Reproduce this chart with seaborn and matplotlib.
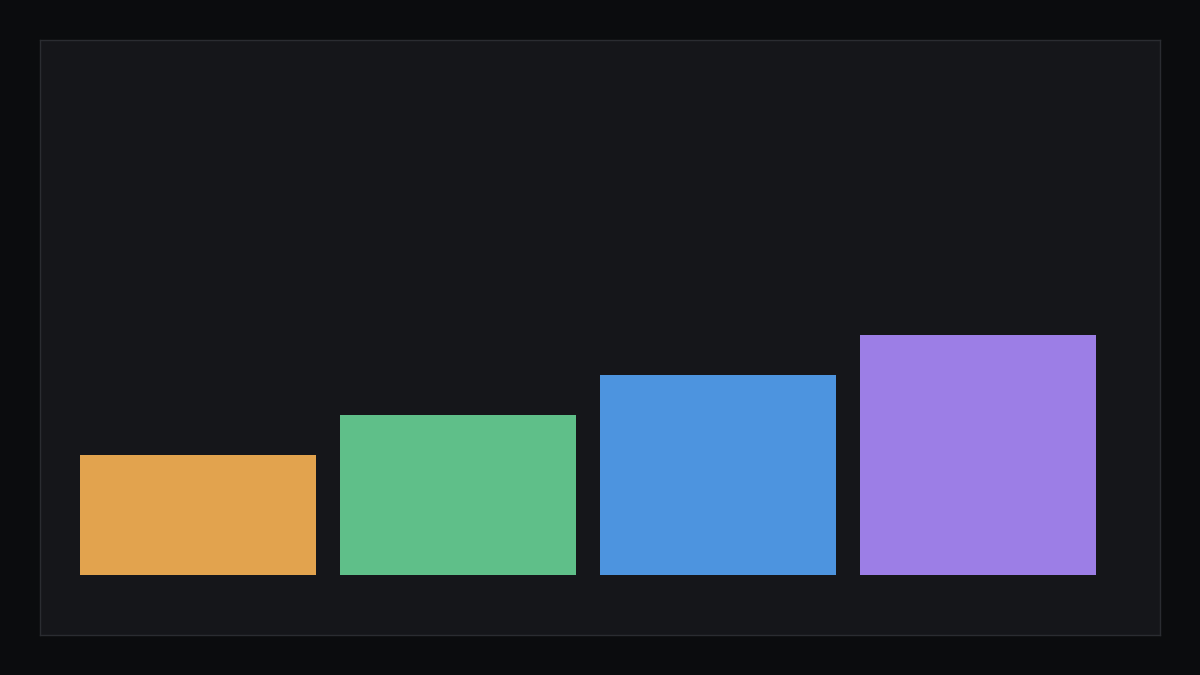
import matplotlib
matplotlib.use("Agg")
import matplotlib.pyplot as plt
import seaborn as sns
import pandas as pd

# Data
categories = ["A", "B", "C", "D"]
values = [30, 40, 50, 60]
colors = ["#e2a34e", "#5fbf89", "#4d94df", "#9c7ee6"]

df = pd.DataFrame({"category": categories, "value": values})

sns.set_theme(style="dark")

fig = plt.figure(figsize=(12, 6.75), dpi=100)
fig.patch.set_facecolor("#0b0c0e")

# Axes covers the panel: x 40..1160, y 40..635 (pixels)
ax = fig.add_axes([40 / 1200, 40 / 675, 1120 / 1200, 595 / 675])
ax.set_facecolor("#15161a")

sns.barplot(data=df, x="category", y="value", hue="category", palette=colors,
            width=236 / 260, legend=False, saturation=1, linewidth=0,
            edgecolor="none", ax=ax)

# 260 px per category slot, first bar centered at 198 px
ax.set_xlim(-158 / 260, -158 / 260 + 1120 / 260)
# 4 px per unit, zero at 575 px
ax.set_ylim(-60 / 4, 535 / 4)

ax.set_xticks([])
ax.set_yticks([])
ax.set_xlabel("")
ax.set_ylabel("")
ax.grid(False)
for s in ax.spines.values():
    s.set_visible(True)
    s.set_color("#2a2c31")
    s.set_linewidth(1)

fig.savefig("out.png", dpi=100, facecolor=fig.get_facecolor())
